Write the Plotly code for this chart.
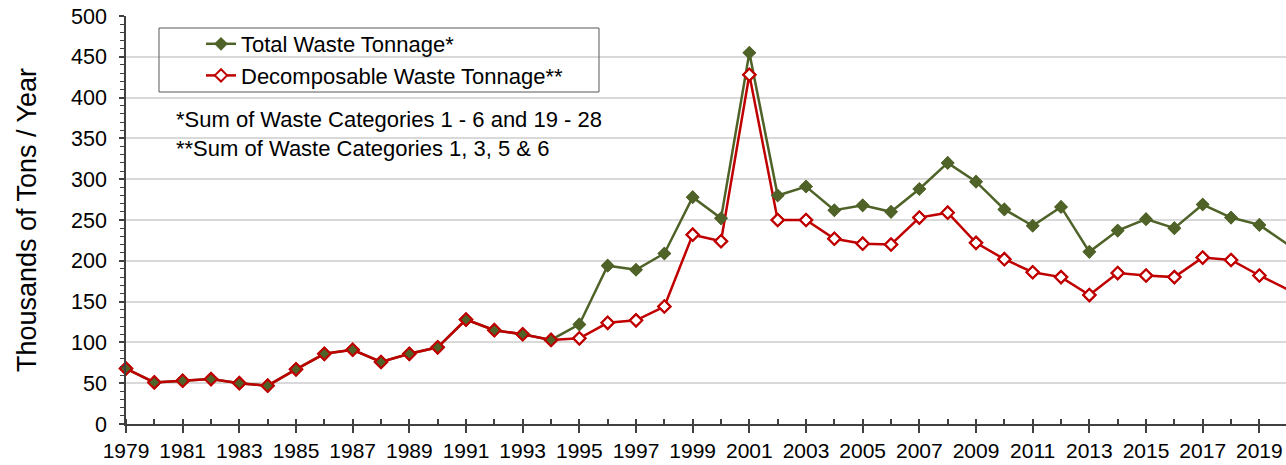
import plotly.graph_objects as go

years = list(range(1979, 2021))
total_waste = [68, 51, 53, 55, 50, 47, 67, 86, 91, 76,
               86, 94, 128, 115, 110, 103, 122, 194, 189, 209,
               278, 252, 455, 280, 291, 262, 268, 260, 288, 320,
               297, 263, 243, 266, 211, 237, 251, 240, 269, 253,
               244, 220]
decomposable_waste = [68, 51, 53, 55, 50, 47, 67, 86, 91, 76,
                      86, 94, 128, 115, 110, 103, 105, 124, 127, 144,
                      232, 224, 428, 250, 250, 227, 221, 220, 253, 259,
                      222, 202, 186, 180, 158, 185, 182, 180, 204, 201,
                      182, 165]

series_names = ["Total Waste Tonnage*", "Decomposable Waste Tonnage**"]
note_lines = ["*Sum of Waste Categories 1 - 6 and 19 - 28",
              "**Sum of Waste Categories 1, 3, 5 & 6"]
y_title = "Thousands of Tons / Year"

GREEN = "#4f6228"
RED = "#c00000"
FONT = "Liberation Sans, Arial, sans-serif"

W, H = 1286, 465
ML, MR, MT, MB = 126, 0, 16, 41
PW, PH = W - ML - MR, H - MT - MB


def px(x):
    return (x - ML) / PW


def py(y):
    return (H - MB - y) / PH


fig = go.Figure()

# green series (legend entry)
fig.add_trace(go.Scatter(
    x=years, y=total_waste, name=series_names[0], mode="lines+markers",
    line=dict(color=GREEN, width=2.5),
    marker=dict(symbol="diamond", size=10.5, color=GREEN, line=dict(width=0)),
    cliponaxis=False, legendrank=1))

# red series (legend entry) with white-filled markers
fig.add_trace(go.Scatter(
    x=years, y=decomposable_waste, name=series_names[1], mode="lines+markers",
    line=dict(color=RED, width=2.5),
    marker=dict(symbol="diamond", size=9.5, color="white", line=dict(width=2, color=RED)),
    cliponaxis=False, legendrank=2))

# green markers re-drawn on top, then red hollow outlines
fig.add_trace(go.Scatter(
    x=years, y=total_waste, mode="markers", showlegend=False,
    marker=dict(symbol="diamond", size=10.5, color=GREEN, line=dict(width=0)),
    cliponaxis=False, hoverinfo="skip"))
fig.add_trace(go.Scatter(
    x=years, y=decomposable_waste, mode="markers", showlegend=False,
    marker=dict(symbol="diamond-open", size=9.5, color=RED, line=dict(width=2, color=RED)),
    cliponaxis=False, hoverinfo="skip"))

shapes = [
    # white areas hiding gridlines behind legend and note
    dict(type="rect", xref="paper", yref="paper", layer="between",
         x0=px(155), x1=px(603), y0=py(95), y1=py(20),
         fillcolor="white", line=dict(width=0)),
    dict(type="rect", xref="paper", yref="paper", layer="between",
         x0=px(155), x1=px(632), y0=py(200), y1=py(93),
         fillcolor="white", line=dict(width=0)),
    # legend border
    dict(type="rect", xref="paper", yref="paper", layer="above",
         x0=px(159), x1=px(599), y0=py(92), y1=py(28),
         fillcolor="rgba(0,0,0,0)", line=dict(width=1, color="#595959")),
]

fig.update_layout(
    width=W, height=H,
    margin=dict(l=ML, r=MR, t=MT, b=MB, autoexpand=False),
    paper_bgcolor="white", plot_bgcolor="white",
    font=dict(family=FONT, color="black", size=21),
    showlegend=True,
    legend=dict(x=px(201), y=py(23), xanchor="left", yanchor="top",
                bgcolor="rgba(0,0,0,0)", borderwidth=0,
                font=dict(size=22, family=FONT, color="black"),
                tracegroupgap=0),
    shapes=shapes,
    annotations=[dict(
        xref="paper", yref="paper", x=px(174), y=py(134),
        xanchor="left", yanchor="middle", align="left",
        text="<br>".join(note_lines), showarrow=False,
        font=dict(size=22, family=FONT, color="black"))],
    xaxis=dict(
        range=[1979, 2019.94], tick0=1979, dtick=2,
        showgrid=False, zeroline=False,
        showline=True, linecolor="#404040", linewidth=1.5,
        ticks="outside", ticklen=7, tickwidth=1.5, tickcolor="#404040",
        tickfont=dict(size=21, family=FONT, color="black"),
        minor=dict(dtick=1, tick0=1979, ticks="inside", ticklen=5,
                   tickwidth=1.5, tickcolor="#404040", showgrid=False),
    ),
    yaxis=dict(
        range=[0, 500], tick0=0, dtick=50,
        showgrid=True, gridcolor="#d9d9d9", gridwidth=1.5, zeroline=False,
        showline=True, linecolor="#404040", linewidth=1.5,
        ticks="outside", ticklen=5, tickwidth=1.5, tickcolor="#404040",
        ticklabelstandoff=8,
        tickfont=dict(size=21.5, family=FONT, color="black"),
        minor=dict(dtick=10, tick0=0, ticks="outside", ticklen=4,
                   tickwidth=1, tickcolor="#404040", showgrid=False),
        title=dict(text=y_title, font=dict(size=27, family=FONT, color="black"),
                   standoff=27),
    ),
)

fig.write_html("out.html", config={"displayModeBar": False})

# remove the browser's default page margin so the figure sits at (0, 0)
with open("out.html", "r", encoding="utf-8") as f:
    html = f.read()
html = html.replace("<head>", "<head><style>html,body{margin:0;padding:0;overflow:hidden;}</style>", 1)
with open("out.html", "w", encoding="utf-8") as f:
    f.write(html)
